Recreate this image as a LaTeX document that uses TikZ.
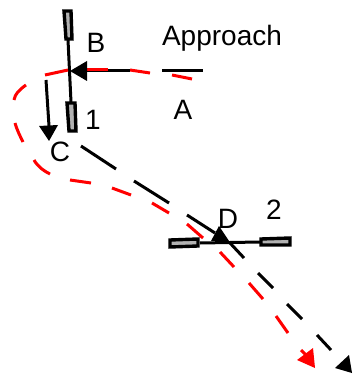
\documentclass[tikz,border=0pt]{standalone}
\usepackage{fontspec}
\setmainfont{Liberation Sans}
\tikzset{
  x=1pt,y=-1pt,
  lab/.style={inner sep=0pt,font=\fontsize{28}{30}\selectfont,text=black},
  blk/.style={draw=black,line width=3pt},
  redd/.style={draw=red,line width=3pt},
  bar/.style={draw=black,fill=black!30,line width=3.4pt},
  tipb/.style={fill=black,draw=none},
  tipr/.style={fill=red,draw=none}
}
\begin{document}
\begin{tikzpicture}
\useasboundingbox (0,0) rectangle (355,374);
% black path
\draw[blk] (68,40) -- (71,102);
\draw[blk] (200,243) -- (260,242);
\foreach \a/\b in {{87,71}/{130,71},{162,71}/{203,71},{46,80}/{49,126},{81,146}/{116,169},{134,181}/{169,203},{187,215}/{215,233},{230,243}/{244,258},{258,273}/{273,288},{287,304}/{302,319},{317,335}/{331,350}}
  \draw[blk] (\a) -- (\b);
% red path
\foreach \a/\b in {{45,75}/{68,70},{87,70}/{108,70},{130,70}/{150,73},{172,75}/{192,79},{152,203}/{169,213},{187,224}/{203,238},{220,252}/{234,267},{249,283}/{263,299},{276,316}/{288,333},{301,350}/{306,355},{70,180}/{91,183},{112,188}/{131,195}}
  \draw[redd] (\a) -- (\b);
\draw[redd] (26,85) .. controls (19,90) and (15,94) .. (14,100);
\draw[redd] (15,123) .. controls (17,130) and (20,136) .. (23,142);
\draw[redd] (34,160) .. controls (38,167) and (44,171) .. (50,174);
% black dash over red
\draw[blk] (108,71) -- (130,71);
% bars
\draw[bar] (64,11) -- (71,11) -- (72,39) -- (66,39) -- cycle;
\draw[bar] (67,103) -- (75,103) -- (76,131) -- (69,131) -- cycle;
\draw[bar] (170,240) -- (198,239) -- (198,246) -- (170,247) -- cycle;
\draw[bar] (261,239) -- (290,238) -- (290,245) -- (261,245) -- cycle;
% arrowheads
\fill[tipb] (70,71) -- (87,61) -- (87,81) -- cycle;
\fill[tipb] (39,126) -- (58,125) -- (49,141) -- cycle;
\fill[tipb] (211,241) -- (229,241) -- (219,226) -- cycle;
\fill[tipb] (335,368) -- (349,355) -- (352,373) -- cycle;
\fill[tipr] (297,360) -- (313,348) -- (315,368) -- cycle;
% labels
\node[lab] (approach) at (222,38) {Approach};
\node[lab] (labA) at (183,110) {A};
\node[lab] (labB) at (96,43) {B};
\node[lab] (labC) at (60,152) {C};
\node[lab] (labD) at (228,219) {D};
\node[lab] (labOne) at (93,120) {1};
\node[lab] (labTwo) at (274,210) {2};
\end{tikzpicture}
\end{document}
